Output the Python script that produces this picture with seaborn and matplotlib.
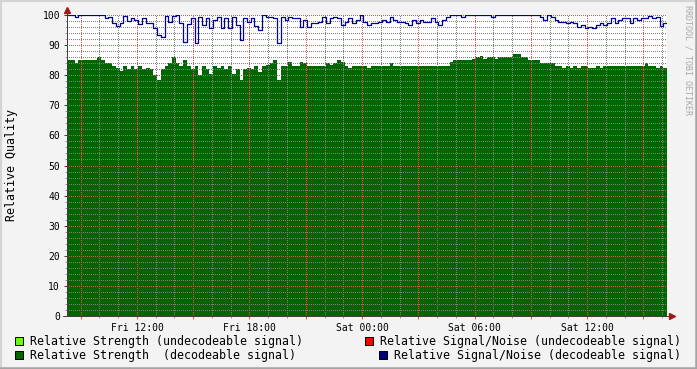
import numpy as np
import pandas as pd
import matplotlib
matplotlib.use("Agg")
import matplotlib.pyplot as plt
import seaborn as sns
from matplotlib.patches import Rectangle
from matplotlib.lines import Line2D
from matplotlib.ticker import MultipleLocator, FixedLocator, FixedFormatter

# ---------------- data ----------------
start_hour = 8 + 16 / 60      # Fri 08:16 (hours since Fri 00:00)
step_hours = 0.2              # 12-minute samples

strength = [
    85, 85, 84, 85, 85, 85, 85, 85,
    86, 85, 84, 84, 83, 82.5, 81.5,
    83, 82, 83, 82, 83, 82, 82.5, 82,
    80, 78.5, 82, 83, 84, 86, 84, 83,
    85, 83, 82, 83, 80, 83, 82, 80.5,
    83, 82.5, 83, 82, 83, 80.5, 82, 78.5,
    82, 82.5, 82, 83, 81, 83, 83.5, 84,
    85, 78.5, 83, 83, 84.5, 83, 83, 84.5,
    84, 83, 83, 83, 83, 83, 84, 83.5,
    84, 85, 84.5, 83, 82.5, 83,
    83, 83, 83, 82.5, 83, 83, 83, 83, 83, 84, 83, 83, 83,
    83, 83, 83, 83, 83, 83, 83, 83, 83, 83, 83, 83,
    84.5, 85, 85, 85, 85, 85, 85.5, 86,
    86.5, 85.5, 86, 86, 85.5, 86, 86, 86,
    86, 87, 87, 86, 86, 85, 85, 85,
    84, 84, 84, 84, 83, 83, 82.5, 83,
    82.5, 83, 82.5, 83, 83, 82.5, 82.5, 83,
    82.5, 83, 83, 83, 83, 83, 83, 83,
    83, 83, 83, 83, 84, 83, 83, 82.5, 83, 82.5,
]

snr = [
    100, 100, 99.5, 100, 100, 100, 100, 100, 100, 100,
    99, 99.2, 97.2, 96.3, 97.2, 99.7, 98, 99, 98.3, 97,
    98.9, 97.2, 97.2, 95.6, 93.4, 92.8, 99.7, 97.8, 99.7, 100,
    97.2, 91.1, 97, 98.9, 90.6, 99.4, 96.7, 98.9, 95.6, 98.3,
    99.4, 95.6, 98.9, 95.6, 99.4, 96.7, 91.7, 98.9, 97.8, 98.9,
    96.3, 95, 100, 99.4, 99.4, 98.9, 90.6, 99.4, 98.3, 99.4,
    98.9, 98.9, 96.1, 98.3, 96.1, 97.2, 97.2, 97.8, 99.4, 97.2,
    98.9, 99.4, 98.9, 96.7, 97.8, 98.9, 97.2, 98.3, 100, 97.8,
    96.7, 97.4, 97.4, 97.8, 98.3, 97.8, 99.4, 98.3, 97.8, 97.8,
    97.2, 96.7, 98.3, 97.2, 98.3, 97.8, 97.8, 98.9, 97.8, 96.7,
    98.3, 99.4, 100, 100, 100, 99.4, 100, 100, 100, 100,
    100, 100, 100, 99.4, 100, 100, 100, 100, 100, 100,
    100, 100, 100, 100, 100, 100, 99.4, 98.3, 100, 99.2,
    98.3, 97.8, 97.8, 97.2, 97.8, 97.2, 96.1, 96.7, 95.6, 96.1,
    95.6, 96.7, 97.4, 96.7, 97.4, 99, 97.2, 98.3, 98.9, 98.9,
    97.2, 98.9, 98.3, 98.9, 98.9, 99.7, 98.9, 99.4, 96.3, 97.4,
]

x_label_hours = [12, 18, 24, 30, 36]
x_labels = ["Fri 12:00", "Fri 18:00", "Sat 00:00", "Sat 06:00", "Sat 12:00"]
y_ticks = [0, 10, 20, 30, 40, 50, 60, 70, 80, 90, 100]

legend_items = [
    ("Relative Strength (undecodeable signal)", "#66ff00"),
    ("Relative Strength  (decodeable signal)", "#006600"),
    ("Relative Signal/Noise (undecodeable signal)", "#ff0000"),
    ("Relative Signal/Noise (decodeable signal)", "#000080"),
]

# ---------------- frame ----------------
n = len(strength)
hours = start_hour + step_hours * np.arange(n + 1)
df = pd.DataFrame({
    "hour": hours,
    "strength": strength + [strength[-1]],
    "snr": snr + [snr[-1]],
})

sns.set_theme(style="white")
plt.rcParams["font.family"] = ["DejaVu Sans Mono"]

W, H = 697, 369
fig = plt.figure(figsize=(W / 100, H / 100), dpi=100, facecolor="#f3f3f3")
ax = fig.add_axes([67 / W, 53 / H, 600 / W, 301 / H])
ax.set_facecolor("white")

# green area
ax.fill_between(df["hour"], df["strength"], step="post", color="#006600",
                lw=0, zorder=1)
# blue line
sns.lineplot(data=df, x="hour", y="snr", drawstyle="steps-post",
             color="#000099", lw=0.9, estimator=None, sort=False, ax=ax,
             zorder=4)

ax.set_xlim(hours[0], hours[-1])
ax.set_ylim(0, 100)

# ticks
major_x = np.arange(9, 40, 3)
ax.xaxis.set_major_locator(FixedLocator(major_x))
ax.xaxis.set_major_formatter(FixedFormatter(
    [x_labels[x_label_hours.index(h)] if h in x_label_hours else "" for h in major_x]))
ax.xaxis.set_minor_locator(MultipleLocator(1))
ax.yaxis.set_major_locator(FixedLocator(y_ticks))
ax.yaxis.set_minor_locator(MultipleLocator(2))

ax.tick_params(axis="both", which="major", labelsize=7, length=2.5, width=0.72,
               color="#c06060", pad=2.5, labelcolor="#000000")
ax.tick_params(axis="y", which="major", color="#404040")
ax.tick_params(axis="both", which="minor", length=1.5, width=0.72, color="#a0a0a0")
ax.tick_params(left=True, bottom=True, which="both")
ax.set_xlabel("")
ax.set_ylabel("")

# dotted grid above the area: 1px on, 2px off
ax.set_axisbelow(False)
dot = (0, (1, 2))
ax.grid(which="minor", color=(0.5, 0.5, 0.5, 0.38), linestyle=dot, lw=0.72,
        antialiased=False, snap=True, zorder=2)
ax.grid(which="major", color=(0.85, 0.35, 0.35, 0.42), linestyle=dot, lw=0.72,
        antialiased=False, snap=True, zorder=3)

for s in ["top", "right"]:
    ax.spines[s].set_visible(False)
for s in ["left", "bottom"]:
    ax.spines[s].set_color("#404040")
    ax.spines[s].set_linewidth(0.72)
    ax.spines[s].set_zorder(5)

# axis extensions + arrows
ax.add_line(Line2D([0, 0], [1, 1.015], transform=ax.transAxes, color="#404040",
                   lw=0.72, clip_on=False))
ax.add_line(Line2D([-0.006, 1.006], [0, 0], transform=ax.transAxes, color="#404040",
                   lw=0.72, clip_on=False))
ax.plot([0], [1.017], marker="^", ms=4.2, color="#a01818", transform=ax.transAxes,
        clip_on=False, zorder=6)
ax.plot([1.009], [0], marker=">", ms=4.2, color="#a01818", transform=ax.transAxes,
        clip_on=False, zorder=6)

# y label
fig.text(12 / W, 1 - 165 / H, "Relative Quality", rotation=90, ha="center",
         va="center", fontsize=8.4, color="black")

# watermark
fig.text(688 / W, 1 - 5 / H, "RRDTOOL / TOBI OETIKER", rotation=270, ha="center",
         va="top", fontsize=6, color="#a8a8a8")

# legend
legend_pos = [(15, 341, 30), (15, 355, 30), (365, 341, 380), (379, 355, 394)]
for (label, col), (sx, cy, tx) in zip(legend_items, legend_pos):
    fig.add_artist(Rectangle((sx / W, 1 - (cy + 4) / H), 8 / W, 8 / H,
                             transform=fig.transFigure, facecolor=col,
                             edgecolor="black", lw=0.72))
    fig.text(tx / W, 1 - cy / H, label, ha="left", va="center", fontsize=8.4,
             color="black")

# 3D-ish frame
fig.add_artist(Line2D([0, 1], [1 - 0.5 / H, 1 - 0.5 / H], transform=fig.transFigure,
                      color="#d4d4d4", lw=1.5))
fig.add_artist(Line2D([0.5 / W, 0.5 / W], [0, 1], transform=fig.transFigure,
                      color="#d4d4d4", lw=1.5))
fig.add_artist(Line2D([0, 1], [1.2 / H, 1.2 / H], transform=fig.transFigure,
                      color="#a4a4a4", lw=1.8))
fig.add_artist(Line2D([1 - 1.2 / W, 1 - 1.2 / W], [0, 1], transform=fig.transFigure,
                      color="#a4a4a4", lw=1.8))

fig.savefig("out.png", dpi=100, facecolor=fig.get_facecolor())
